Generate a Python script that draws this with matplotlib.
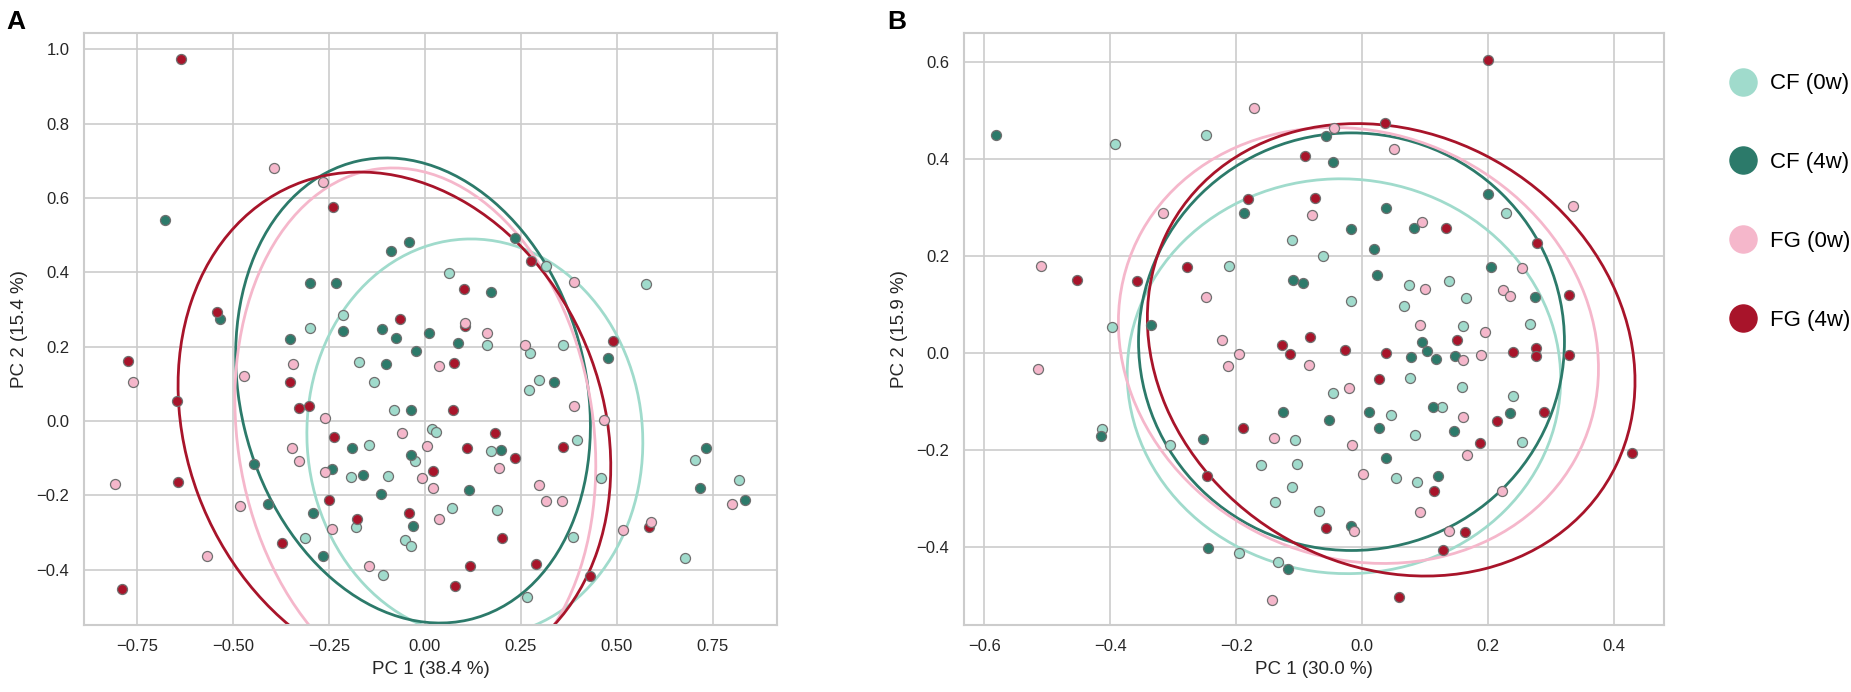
import numpy as np
import matplotlib
matplotlib.use('Agg')
import matplotlib.pyplot as plt
from matplotlib.patches import Ellipse
from matplotlib.lines import Line2D
from matplotlib.ticker import FuncFormatter, MultipleLocator

plt.rcParams['font.family'] = ['Liberation Sans', 'DejaVu Sans']

groups = ['CF (0w)', 'CF (4w)', 'FG (0w)', 'FG (4w)']
colors = ['#a0dbcc', '#2c7a6a', '#f5b7cb', '#a8142a']

# ---- panel A scores (PC1, PC2) ----
a_cf0 = [(0.0625, 0.399), (-0.213, 0.285), (-0.299, 0.250), (-0.3125, -0.313), (-0.145, -0.064),
         (-0.193, -0.150), (-0.0955, -0.148), (-0.180, -0.285), (-0.1085, -0.414), (-0.173, 0.160),
         (-0.133, 0.106), (-0.080, 0.029), (0.0174, -0.022), (0.0286, -0.030), (-0.026, -0.107),
         (-0.052, -0.319), (-0.037, -0.335), (0.0695, -0.233), (0.315, 0.418), (0.575, 0.369),
         (0.161, 0.205), (0.360, 0.205), (0.273, 0.184), (0.296, 0.110), (0.271, 0.083),
         (0.171, -0.080), (0.396, -0.052), (0.458, -0.154), (0.1875, -0.239), (0.386, -0.311),
         (0.265, -0.473), (0.678, -0.369), (0.703, -0.105), (0.818, -0.158)]
a_cf4 = [(-0.678, 0.540), (-0.042, 0.483), (-0.089, 0.458), (-0.300, 0.372), (-0.232, 0.371),
         (-0.535, 0.274), (-0.214, 0.243), (-0.111, 0.249), (-0.0755, 0.224), (0.0104, 0.236),
         (-0.352, 0.220), (0.087, 0.209), (-0.022, 0.189), (-0.445, -0.114), (-0.408, -0.222),
         (-0.291, -0.248), (-0.265, -0.363), (-0.241, -0.129), (-0.191, -0.071), (-0.161, -0.145),
         (-0.115, -0.195), (-0.102, 0.153), (-0.035, 0.030), (-0.037, -0.092), (-0.030, -0.282),
         (0.115, -0.185), (0.234, 0.493), (0.171, 0.347), (0.476, 0.169), (0.335, 0.104),
         (0.198, -0.078), (0.731, -0.071), (0.717, -0.179), (0.834, -0.213)]
a_fg0 = [(-0.393, 0.682), (-0.266, 0.644), (0.104, 0.265), (-0.760, 0.106), (-0.806, -0.169),
         (-0.568, -0.364), (-0.482, -0.228), (-0.471, 0.121), (-0.343, 0.153), (-0.345, -0.072),
         (-0.327, -0.106), (-0.259, 0.008), (-0.260, -0.136), (-0.241, -0.291), (-0.145, -0.389),
         (-0.059, -0.031), (0.0043, -0.066), (-0.0087, -0.153), (0.0217, -0.179), (0.037, -0.262),
         (0.037, 0.149), (0.388, 0.373), (0.161, 0.236), (0.260, 0.205), (0.388, 0.040),
         (0.467, 0.002), (0.192, -0.126), (0.296, -0.171), (0.315, -0.215), (0.356, -0.215),
         (0.516, -0.293), (0.590, -0.271), (0.801, -0.222)]
a_fg4 = [(-0.635, 0.974), (-0.239, 0.575), (0.102, 0.356), (-0.542, 0.294), (-0.065, 0.274),
         (0.104, 0.256), (-0.774, 0.162), (-0.647, 0.055), (-0.644, -0.163), (-0.789, -0.452),
         (-0.372, -0.327), (-0.351, 0.105), (-0.328, 0.034), (-0.301, 0.040), (-0.237, -0.043),
         (-0.25, -0.213), (-0.176, -0.262), (0.0217, -0.135), (-0.041, -0.246), (0.076, 0.157),
         (0.072, 0.029), (0.110, -0.071), (0.117, -0.389), (0.078, -0.443), (0.276, 0.432),
         (0.490, 0.216), (0.183, -0.032), (0.235, -0.099), (0.359, -0.069), (0.201, -0.315),
         (0.290, -0.385), (0.430, -0.416), (0.583, -0.286)]

# ---- panel B scores (PC1, PC2) ----
b_cf0 = [(-0.393, 0.430), (-0.248, 0.449), (-0.397, 0.054), (-0.111, 0.233), (-0.062, 0.200),
         (-0.212, 0.180), (-0.0185, 0.106), (0.0735, 0.140), (0.0656, 0.097), (0.076, -0.052),
         (-0.047, -0.083), (0.0455, -0.129), (0.0836, -0.169), (-0.106, -0.181), (-0.160, -0.232),
         (-0.104, -0.229), (-0.1116, -0.278), (-0.138, -0.309), (0.0534, -0.259), (0.0868, -0.266),
         (-0.069, -0.3275), (-0.195, -0.414), (-0.133, -0.431), (-0.413, -0.158), (-0.305, -0.190),
         (0.228, 0.288), (0.1376, 0.1487), (0.165, 0.1137), (0.160, 0.0555), (0.2667, 0.0596),
         (0.1587, -0.0713), (0.127, -0.1124), (0.240, -0.0897), (0.2535, -0.184)]
b_cf4 = [(-0.581, 0.449), (-0.335, 0.0576), (-0.057, 0.447), (-0.0466, 0.393), (-0.187, 0.289),
         (-0.017, 0.255), (0.0376, 0.299), (0.019, 0.214), (0.082, 0.258), (-0.1106, 0.151),
         (-0.094, 0.143), (0.0238, 0.161), (0.095, 0.023), (0.077, -0.008), (0.103, 0.003),
         (-0.125, -0.122), (-0.0534, -0.139), (0.010, -0.122), (0.027, -0.155), (-0.252, -0.179),
         (0.037, -0.217), (-0.018, -0.358), (-0.244, -0.403), (-0.1185, -0.446), (-0.414, -0.172),
         (0.1995, 0.327), (0.204, 0.177), (0.2746, 0.1144), (0.1175, -0.013), (0.1466, -0.006),
         (0.112, -0.1117), (0.235, -0.124), (0.1455, -0.1624), (0.1196, -0.254)]
b_fg0 = [(-0.316, 0.289), (-0.510, 0.180), (-0.248, 0.1145), (-0.222, 0.027), (-0.171, 0.506),
         (-0.0455, 0.4645), (0.0508, 0.420), (-0.0804, 0.284), (0.0947, 0.270), (0.1, 0.131),
         (0.092, 0.058), (-0.195, -0.002), (-0.213, -0.027), (-0.085, -0.025), (-0.021, -0.073),
         (-0.140, -0.175), (-0.0164, -0.191), (0.002, -0.251), (-0.0127, -0.3686), (0.0916, -0.328),
         (-0.1434, -0.510), (-0.514, -0.033), (0.335, 0.303), (0.2535, 0.1747), (0.224, 0.130),
         (0.235, 0.118), (0.195, 0.0418), (0.160, -0.0144), (0.189, -0.004), (0.160, -0.133),
         (0.166, -0.211), (0.222, -0.285), (0.138, -0.367)]
b_fg4 = [(-0.453, 0.151), (-0.358, 0.148), (-0.278, 0.176), (0.0354, 0.474), (-0.091, 0.406),
         (-0.181, 0.318), (-0.0757, 0.319), (-0.1275, 0.016), (-0.115, -0.002), (-0.0825, 0.032),
         (-0.027, 0.005), (0.0376, -0.001), (0.026, -0.054), (-0.189, -0.156), (-0.247, -0.255),
         (-0.0577, -0.362), (0.059, -0.504), (0.1995, 0.604), (0.133, 0.258), (0.277, 0.227),
         (0.328, 0.1185), (0.150, 0.0267), (0.240, 0.0006), (0.2757, 0.0097), (0.2757, -0.006),
         (0.328, -0.004), (0.214, -0.140), (0.289, -0.1227), (0.187, -0.1857), (0.428, -0.2076),
         (0.114, -0.285), (0.1635, -0.371), (0.128, -0.407)]

# ellipses: centre x, centre y, half width, half height, x shift of the top point
a_ell = [(0.13, -0.045, 0.4375, 0.535, -0.01),
         (-0.031, 0.0825, 0.462, 0.6255, -0.07),
         (-0.025, -0.03, 0.47, 0.711, -0.058),
         (-0.0795, -0.013, 0.5635, 0.683, -0.09)]
b_ell = [(-0.029, -0.0485, 0.344, 0.4075, -0.005),
         (-0.017, 0.0228, 0.338, 0.431, 0.0),
         (-0.006, 0.015, 0.381, 0.45, -0.04),
         (0.046, 0.006, 0.387, 0.467, -0.054)]


def ellipse_patch(cx, cy, w, h, dx, color):
    s2 = w ** 2 + h ** 2
    c2 = h ** 2 - w ** 2
    s2t = -2 * dx * h
    d = np.hypot(c2, s2t)
    theta = 0.5 * np.degrees(np.arctan2(s2t, c2))
    a = np.sqrt((s2 - d) / 2)
    b = np.sqrt((s2 + d) / 2)
    return Ellipse((cx, cy), 2 * a, 2 * b, angle=theta, fill=False,
                   edgecolor=color, linewidth=2.0, zorder=2)


def minus_fmt(decimals):
    return FuncFormatter(lambda v, pos: f'{v:.{decimals}f}'.replace('-', '\u2212'))


def draw_panel(ax, pts, ells, xlim, ylim, xstep, ystep, xdec, xlabel, ylabel):
    for e, c in zip(ells, colors):
        ax.add_patch(ellipse_patch(*e, c))
    for i in [0, 1, 3, 2]:
        arr = np.array(pts[i])
        ax.scatter(arr[:, 0], arr[:, 1], s=52, c=colors[i], edgecolors='#707070',
                   linewidths=0.9, zorder=3)
    ax.set_xlim(*xlim)
    ax.set_ylim(*ylim)
    ax.xaxis.set_major_locator(MultipleLocator(xstep))
    ax.yaxis.set_major_locator(MultipleLocator(ystep))
    ax.xaxis.set_major_formatter(minus_fmt(xdec))
    ax.yaxis.set_major_formatter(minus_fmt(1))
    ax.grid(True, color='#cccccc', linewidth=1.2)
    ax.set_axisbelow(True)
    for sp in ax.spines.values():
        sp.set_color('#cccccc')
        sp.set_linewidth(1.5)
    ax.tick_params(length=0, labelsize=12, labelcolor='#262626', pad=10.5)
    ax.set_xlabel(xlabel, fontsize=13.5, color='#262626', labelpad=5)
    ax.set_ylabel(ylabel, fontsize=13.5, color='#262626', labelpad=6)


fig = plt.figure(figsize=(18.51, 6.92), dpi=100)
ax1 = fig.add_axes([84 / 1851, 1 - 624.5 / 692, 693 / 1851, 591.5 / 692])
ax2 = fig.add_axes([964 / 1851, 1 - 624.5 / 692, 700 / 1851, 591.5 / 692])

draw_panel(ax1, [a_cf0, a_cf4, a_fg0, a_fg4], a_ell, (-0.888, 0.917), (-0.547, 1.044),
           0.25, 0.2, 2, 'PC 1 (38.4 %)', 'PC 2 (15.4 %)')
draw_panel(ax2, [b_cf0, b_cf4, b_fg0, b_fg4], b_ell, (-0.632, 0.479), (-0.561, 0.660),
           0.2, 0.2, 1, 'PC 1 (30.0 %)', 'PC 2 (15.9 %)')

fig.text(6 / 1851, 1 - 29 / 692, 'A', fontsize=19, fontweight='bold', va='baseline')
fig.text(887 / 1851, 1 - 29 / 692, 'B', fontsize=19, fontweight='bold', va='baseline')

handles = [Line2D([], [], marker='o', linestyle='', markersize=19.5, color=c) for c in colors]
fig.legend(handles, groups, loc='center left', bbox_to_anchor=(1706 / 1851, 1 - 202 / 692),
           frameon=False, fontsize=16, labelspacing=2.6, handletextpad=0.5,
           handlelength=1.5)

fig.savefig('out.png', dpi=100)
